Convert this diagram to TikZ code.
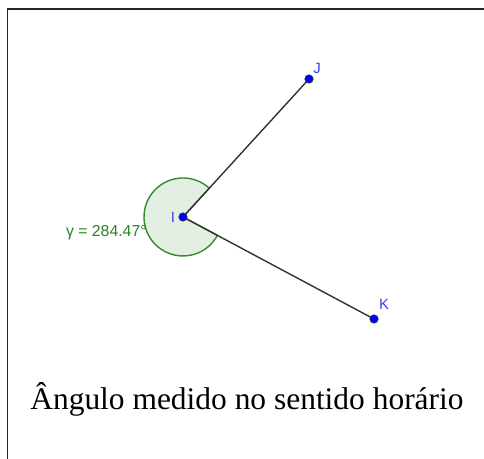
\documentclass[tikz,border=0pt]{standalone}
\usepackage{fontspec}
\setmainfont{Liberation Serif}
\newfontfamily\ggbfont{Liberation Sans}
\usetikzlibrary{positioning}

\definecolor{ggbgreen}{RGB}{0,110,0}
\definecolor{ggbblue}{RGB}{0,0,255}
\definecolor{ggblabel}{RGB}{60,60,255}

\begin{document}
\begin{tikzpicture}[x=0.02cm, y=0.02cm,
  pt/.style={circle, draw=black!80, line width=0.3pt, fill=ggbblue, inner sep=0pt, minimum size=0.17cm},
  ptlabel/.style={font=\ggbfont\fontsize{8.5}{9}\selectfont, text=ggblabel, inner sep=0pt},
  seg/.style={draw=black!80, line width=0.8pt},
  sector/.style={draw=ggbgreen!80, fill=ggbgreen!11, line width=0.8pt},
  anglabel/.style={font=\ggbfont\fontsize{9}{10}\selectfont, text=ggbgreen!85, inner sep=0pt},
  frame/.style={draw=black!85, line width=1.1pt},
  caption/.style={font=\fontsize{17.9}{20}\selectfont, inner sep=0pt},
]
\useasboundingbox (0,0) rectangle (484,459);

% frame (top and left)
\draw[frame] (7.5,0) -- (7.5,450) -- (484,450);

% points
\coordinate (I) at (183,242);
\coordinate (J) at (309,380);
\coordinate (K) at (374,140);

% angle sector
\draw[sector] (I) -- ++(47.6:39) arc[start angle=47.6, end angle=331.9, radius=39] -- cycle;
\node[anglabel, anchor=base east] (gamma) at (147,222) {γ = 284.47°};

% segments
\draw[seg] (I) -- (J);
\draw[seg] (I) -- (K);

\node[pt] (pI) at (I) {};
\node[pt] (pJ) at (J) {};
\node[pt] (pK) at (K) {};
\node[ptlabel] (lI) at (173,242) {I};
\node[ptlabel] (lJ) at (317,391) {J};
\node[ptlabel] (lK) at (384,155) {K};

% caption
\node[caption, anchor=base west] (cap) at (30,49) {Ângulo medido no sentido horário};

\end{tikzpicture}
\end{document}
